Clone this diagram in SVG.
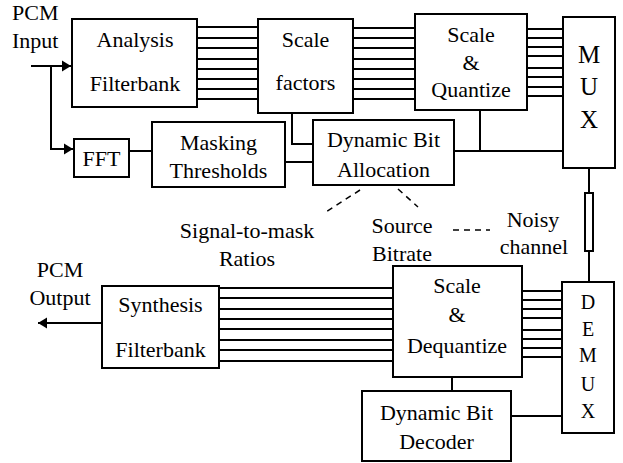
<svg xmlns="http://www.w3.org/2000/svg" width="623" height="463" viewBox="0 0 623 463">
<style>
.box{fill:#fff;stroke:#000;stroke-width:2}
.ln{fill:none;stroke:#000;stroke-width:2}
.dash{fill:none;stroke:#000;stroke-width:1.5;stroke-dasharray:6 5}
.t{font-family:'Liberation Serif','Times New Roman',serif;font-size:22px;fill:#000}
.c{text-anchor:middle}
.mux{font-size:25px;text-anchor:middle}
.demux{font-size:20px;text-anchor:middle}
</style>
<defs>
<marker id="arr" markerUnits="userSpaceOnUse" markerWidth="10" markerHeight="12" viewBox="0 0 10 12" refX="9" refY="6" orient="auto">
<path d="M0,0.5 L9,6 L0,11.5 Z" fill="#000"/>
</marker>
</defs>
<rect width="623" height="463" fill="#fff"/>
<g id="connectors">
<path class="ln" d="M31,66 H71" marker-end="url(#arr)"/>
<path class="ln" d="M51,66 V149 H73" marker-end="url(#arr)"/>
<path class="ln" d="M197,27H258M197,38H258M197,48H258M197,59H258M197,69H258M197,79H258M197,89H258M197,99H258"/>
<path class="ln" d="M353,28H415M353,38H415M353,48H415M353,59H415M353,69H415M353,79H415M353,89H415M353,99H415"/>
<path class="ln" d="M527,29H563M527,38H563M527,47H563M527,56H563M527,68H563M527,77H563M527,87H563M527,96H563"/>
<path class="ln" d="M129,151 H152"/>
<path class="ln" d="M285,162 H313"/>
<path class="ln" d="M292,113 V144 H313"/>
<path class="ln" d="M454,151 H563"/>
<path class="ln" d="M480,110 V151"/>
<path class="ln" d="M589,168 V193 M589,251 V282"/>
<rect class="box" x="585" y="193" width="8" height="58"/>
<path class="dash" d="M360,190 L326,212"/>
<path class="dash" d="M398,189 L418,207"/>
<path class="dash" d="M453,230 H490"/>
<path class="ln" d="M219,288H393M219,298H393M219,309H393M219,319H393M219,329H393M219,340H393M219,350H393M219,361H393"/>
<path class="ln" d="M522,291H562M522,300H562M522,309H562M522,318H562M522,330H562M522,339H562M522,348H562M522,357H562"/>
<path class="ln" d="M452,377 V391"/>
<path class="ln" d="M511,416 H562"/>
<path class="ln" d="M102,323 H38" marker-end="url(#arr)"/>
</g>
<g class="t">
<g id="analysis"><rect class="box" x="72" y="19" width="125" height="88"/><text class="c" x="135" y="47">Analysis</text><text class="c" x="135" y="91">Filterbank</text></g>
<g id="scalefactors"><rect class="box" x="258" y="19" width="95" height="94"/><text class="c" x="305.5" y="47">Scale</text><text class="c" x="305.5" y="90">factors</text></g>
<g id="scalequantize"><rect class="box" x="415" y="14" width="112" height="96"/><text class="c" x="471" y="42">Scale</text><text class="c" x="471" y="70">&amp;</text><text class="c" x="471" y="97">Quantize</text></g>
<g id="mux"><rect class="box" x="563" y="17" width="52" height="151"/><text class="mux" x="589" y="63">M</text><text class="mux" x="589" y="95">U</text><text class="mux" x="589" y="128">X</text></g>
<g id="fft"><rect class="box" x="74" y="139" width="55" height="38"/><text class="c" x="101.5" y="166">FFT</text></g>
<g id="masking"><rect class="box" x="152" y="122" width="133" height="65"/><text class="c" x="218.5" y="150">Masking</text><text class="c" x="218.5" y="178">Thresholds</text></g>
<g id="dba"><rect class="box" x="313" y="120" width="141" height="65"/><text class="c" x="383.5" y="147">Dynamic Bit</text><text class="c" x="383.5" y="177">Allocation</text></g>
<g id="labels">
<text x="12" y="20">PCM</text><text x="12" y="48">Input</text>
<text class="c" x="247" y="238">Signal-to-mask</text><text class="c" x="247" y="266">Ratios</text>
<text class="c" x="402" y="233">Source</text><text class="c" x="402" y="261">Bitrate</text>
<text class="c" x="533" y="227">Noisy</text><text class="c" x="534" y="254">channel</text>
<text class="c" x="60" y="277">PCM</text><text class="c" x="60" y="305">Output</text>
</g>
<g id="synthesis"><rect class="box" x="102" y="286" width="117" height="82"/><text class="c" x="160.5" y="312">Synthesis</text><text class="c" x="160.5" y="357">Filterbank</text></g>
<g id="scaledequantize"><rect class="box" x="393" y="266" width="129" height="111"/><text class="c" x="457" y="293">Scale</text><text class="c" x="457" y="322">&amp;</text><text class="c" x="457" y="353">Dequantize</text></g>
<g id="demux"><rect class="box" x="562" y="282" width="52" height="151"/><text class="demux" x="588" y="309">D</text><text class="demux" x="588" y="336">E</text><text class="demux" x="588" y="362">M</text><text class="demux" x="588" y="391">U</text><text class="demux" x="588" y="418">X</text></g>
<g id="dbd"><rect class="box" x="362" y="391" width="149" height="70"/><text class="c" x="436.5" y="420">Dynamic Bit</text><text class="c" x="436.5" y="449">Decoder</text></g>
</g>
</svg>
